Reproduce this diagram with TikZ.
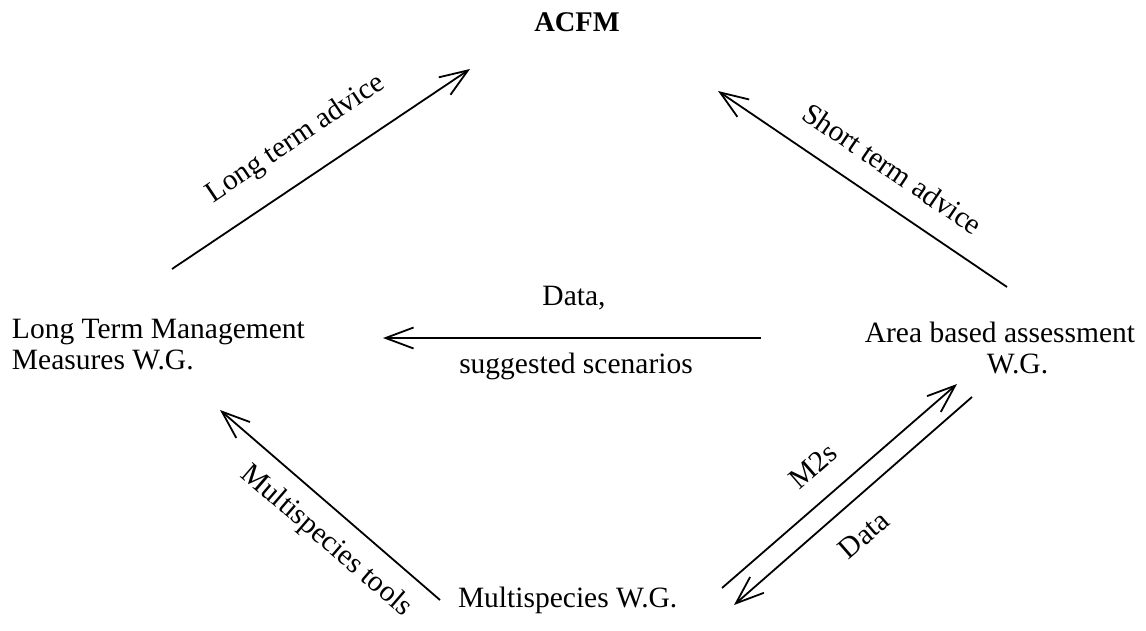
\documentclass[tikz,border=0pt]{standalone}
\usepackage{fontspec}
\setmainfont{Liberation Serif}
\usetikzlibrary{arrows.meta}
\begin{document}
\begin{tikzpicture}[x=1pt,y=-1pt,
  every node/.style={inner sep=0pt,outer sep=0pt,font=\fontsize{29.5}{31}\selectfont},
  lbl/.style={anchor=base},
  flow/.style={line width=1.8pt,-{Straight Barb[length=28pt,width=21pt,line width=1.8pt]}}]
\useasboundingbox (0,0) rectangle (1146,630);
% nodes (base anchor of a two-line node = baseline of its last line)
\node[lbl,font=\fontsize{28.5}{31}\selectfont\bfseries] (acfm) at (577,31) {ACFM};
\node[anchor=base west,align=left] (ltm) at (12,369) {Long Term Management\\Measures W.G.};
\node[anchor=base,align=center] (aba) at (1000,373) {Area based assessment\\\hspace*{35pt}W.G.};
\node[anchor=base west] (msw) at (458,607) {Multispecies W.G.};
% connector end points
\coordinate (lt-s) at (172,269); \coordinate (lt-e) at (470,69);
\coordinate (st-s) at (1007,287); \coordinate (st-e) at (718,91);
\coordinate (dh-s) at (761,338); \coordinate (dh-e) at (383,338);
\coordinate (mt-s) at (440,600); \coordinate (mt-e) at (220,410);
\coordinate (m2-s) at (722,588); \coordinate (m2-e) at (957,384);
\coordinate (dl-s) at (972,397); \coordinate (dl-e) at (734,605);
% connectors
\draw[flow] (lt-s) -- (lt-e);
\draw[flow] (st-s) -- (st-e);
\draw[flow] (dh-s) -- (dh-e);
\draw[flow] (mt-s) -- (mt-e);
\draw[flow] (m2-s) -- (m2-e);
\draw[flow] (dl-s) -- (dl-e);
% labels
\node[lbl,rotate=33.9] (l-lt) at (300,145) {Long term advice};
\node[lbl,rotate=-34.2] (l-st) at (887,177) {Short term advice};
\node[lbl] (l-d1) at (574,305) {Data,};
\node[lbl] (l-d2) at (576,373) {suggested scenarios};
\node[lbl,rotate=-40.8] (l-mt) at (321.5,546.5) {Multispecies tools};
\node[lbl,rotate=41] (l-m2) at (819.5,473) {M2s};
\node[lbl,rotate=41] (l-dl) at (870,542) {Data};
\end{tikzpicture}
\end{document}
